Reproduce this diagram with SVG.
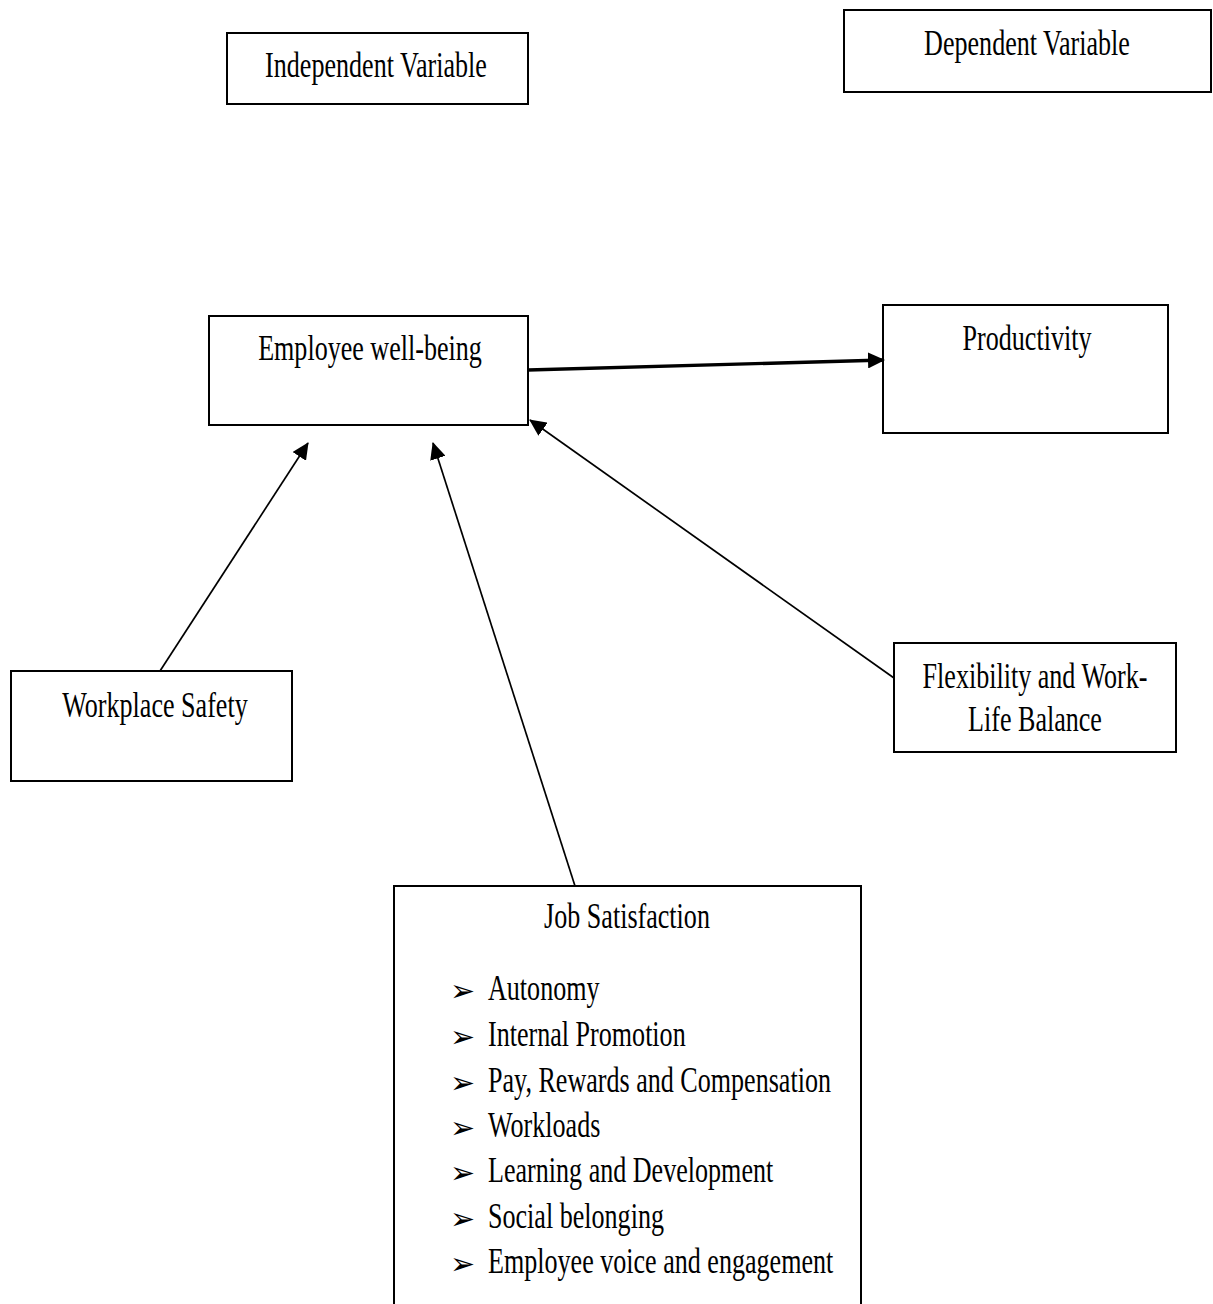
<svg xmlns="http://www.w3.org/2000/svg" width="1213" height="1304" viewBox="0 0 1213 1304">
<defs>
<style>
.box{fill:#fff;stroke:#000;stroke-width:2}
.t{font-family:"Liberation Serif","Times New Roman",serif;font-size:35px;fill:#000}
.c{text-anchor:middle}
.b{font-family:"DejaVu Sans",sans-serif;font-size:30px;fill:#000}
.ln{stroke:#000;stroke-width:1.7;fill:none}
.thick{stroke-width:3.4}
</style>
<marker id="ah" markerUnits="userSpaceOnUse" markerWidth="18" markerHeight="16" refX="16" refY="8" orient="auto">
<path d="M0,0 L17,8 L0,16 Z" fill="#000"/>
</marker>
</defs>
<rect width="1213" height="1304" fill="#fff"/>
<g id="independent">
<rect class="box" x="227" y="33" width="301" height="71"/>
<text class="t c" transform="translate(376,77) scale(0.745,1)">Independent Variable</text>
</g>
<g id="dependent">
<rect class="box" x="844" y="10" width="367" height="82"/>
<text class="t c" transform="translate(1027,55) scale(0.745,1)">Dependent Variable</text>
</g>
<g id="wellbeing">
<rect class="box" x="209" y="316" width="319" height="109"/>
<text class="t c" transform="translate(370,360) scale(0.745,1)">Employee well-being</text>
</g>
<g id="productivity">
<rect class="box" x="883" y="305" width="285" height="128"/>
<text class="t c" transform="translate(1027,350) scale(0.745,1)">Productivity</text>
</g>
<g id="safety">
<rect class="box" x="11" y="671" width="281" height="110"/>
<text class="t c" transform="translate(155,717) scale(0.745,1)">Workplace Safety</text>
</g>
<g id="flexibility">
<rect class="box" x="894" y="643" width="282" height="109"/>
<text class="t c" transform="translate(1035,688) scale(0.745,1)">Flexibility and Work-</text>
<text class="t c" transform="translate(1035,731) scale(0.745,1)">Life Balance</text>
</g>
<g id="jobsatisfaction">
<rect class="box" x="394" y="886" width="467" height="430"/>
<text class="t c" transform="translate(627,928) scale(0.745,1)">Job Satisfaction</text>
<g class="b">
<text x="450" y="1001">➢</text>
<text x="450" y="1047">➢</text>
<text x="450" y="1093">➢</text>
<text x="450" y="1138">➢</text>
<text x="450" y="1183">➢</text>
<text x="450" y="1229">➢</text>
<text x="450" y="1274">➢</text>
</g>
<text class="t" transform="translate(488,1000) scale(0.745,1)">Autonomy</text>
<text class="t" transform="translate(488,1046) scale(0.745,1)">Internal Promotion</text>
<text class="t" transform="translate(488,1092) scale(0.745,1)">Pay, Rewards and Compensation</text>
<text class="t" transform="translate(488,1137) scale(0.745,1)">Workloads</text>
<text class="t" transform="translate(488,1182) scale(0.745,1)">Learning and Development</text>
<text class="t" transform="translate(488,1228) scale(0.745,1)">Social belonging</text>
<text class="t" transform="translate(488,1273) scale(0.745,1)">Employee voice and engagement</text>
</g>
<g id="connectors">
<line class="ln thick" x1="528" y1="370" x2="884" y2="360" marker-end="url(#ah)"/>
<line class="ln" x1="160" y1="671" x2="308" y2="443" marker-end="url(#ah)"/>
<line class="ln" x1="575" y1="886" x2="433" y2="443" marker-end="url(#ah)"/>
<line class="ln" x1="894" y1="678" x2="530" y2="420" marker-end="url(#ah)"/>
</g>
</svg>
